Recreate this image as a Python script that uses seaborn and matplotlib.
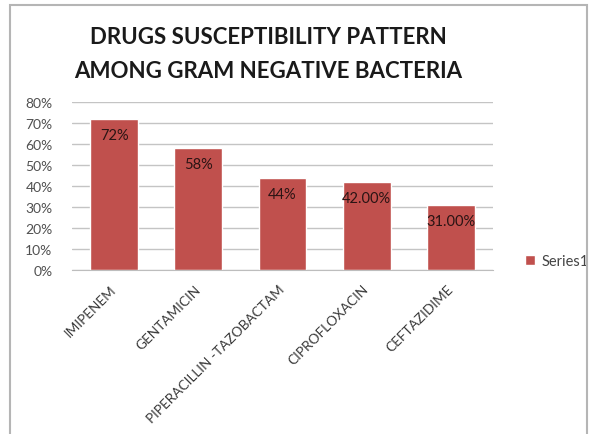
import matplotlib
matplotlib.use("Agg")
import matplotlib.pyplot as plt
import seaborn as sns
import pandas as pd
from matplotlib.patches import Rectangle
from matplotlib.ticker import FuncFormatter, MultipleLocator

drugs = ["IMIPENEM", "GENTAMICIN", "PIPERACILLIN -TAZOBACTAM", "CIPROFLOXACIN", "CEFTAZIDIME"]
susceptibility = [0.72, 0.58, 0.44, 0.42, 0.31]
value_labels = ["72%", "58%", "44%", "42.00%", "31.00%"]
series_name = "Series1"
title_lines = ["DRUGS SUSCEPTIBILITY PATTERN", "AMONG GRAM NEGATIVE BACTERIA"]

sns.set_style("white")
plt.rcParams["font.family"] = ["Lato", "DejaVu Sans"]

df = pd.DataFrame({"drug": drugs, "value": susceptibility, "series": series_name})

fig = plt.figure(figsize=(5.89, 4.35), dpi=100)
fig.patch.set_facecolor("white")
W, H = 589, 435
ax = fig.add_axes([72 / W, 1 - 271 / H, (493 - 72) / W, (271 - 103) / H])

bar_color = "#C0504D"
sns.barplot(data=df, x="drug", y="value", hue="series", palette=[bar_color],
            saturation=1, width=0.57, ax=ax, legend=True)

ax.set_ylim(0, 0.8)
ax.yaxis.set_major_locator(MultipleLocator(0.1))
ax.yaxis.set_major_formatter(FuncFormatter(lambda v, _: f"{v * 100:.0f}%"))
ax.grid(axis="y", color="#c4c4c4", linewidth=1)
ax.set_axisbelow(True)
for side in ["top", "right", "left"]:
    ax.spines[side].set_visible(False)
ax.spines["bottom"].set_color("#bdbdbd")
ax.set_xlabel("")
ax.set_ylabel("")
ax.tick_params(axis="y", length=0, labelsize=10, labelcolor="#505050", pad=14)
ax.tick_params(axis="x", length=0, labelsize=9.8, labelcolor="#3a3a3a", pad=12)
plt.setp(ax.get_xticklabels(), rotation=45, ha="right", va="center",
         rotation_mode="anchor")

for patch, text in zip(ax.patches, value_labels):
    x = patch.get_x() + patch.get_width() / 2
    y = patch.get_height()
    ax.annotate(text, (x, y), xytext=(0, -11.5), textcoords="offset points",
                ha="center", va="center", fontsize=10.5, color="#2a1414")

handles, labels = ax.get_legend_handles_labels()
ax.legend(handles, labels, loc="center left", bbox_to_anchor=(512 / W, 1 - 262 / H),
          bbox_transform=fig.transFigure, frameon=False, fontsize=10.5,
          handlelength=0.7, handleheight=0.7, handletextpad=0.4,
          labelcolor="#444444")

for line, ypix in zip(title_lines, [37, 72]):
    fig.text(268 / W, 1 - ypix / H, line, ha="center", va="center", fontsize=16,
             fontweight="bold", color="#1a1a1a")

# outer chart frame
fig.patches.append(Rectangle((10 / W, -0.01), (587 - 10) / W, 1.01 - 6 / H,
                             transform=fig.transFigure, fill=False,
                             edgecolor="#b5b5b5", linewidth=1.5))

fig.savefig("out.png", dpi=100, facecolor="white")
